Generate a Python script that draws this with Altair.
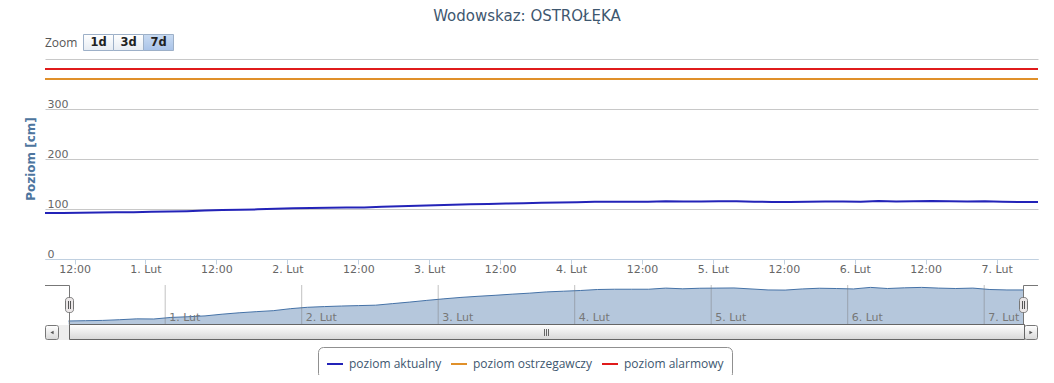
import altair as alt
import pandas as pd

# ---------------- data ----------------
title_text = ["Wodowskaz: OSTROŁĘKA"]
y_title = ["Poziom [cm]"]
zoom_label = ["Zoom"]
zoom_buttons = ["1d", "3d", "7d"]

series_names = ["poziom aktualny", "poziom ostrzegawczy", "poziom alarmowy"]
series_colors = ["#2323B8", "#E0902A", "#E01B1B"]

# current water level, every 3 hours from 31 Jan 07:00 to 7 Feb 07:00
current_level = [92.0, 92.2, 92.4, 92.9, 93.5, 93.4, 94.5, 95.0, 95.6, 96.8,
                 97.8, 98.6, 99.3, 100.7, 101.7, 102.2, 102.6, 102.9, 103.2, 104.3,
                 105.4, 106.6, 107.7, 108.7, 109.5, 110.2, 111.0, 111.7, 112.6, 113.1,
                 113.6, 114.3, 114.5, 114.5, 114.5, 115.3, 114.8, 115.2, 115.3, 115.4,
                 114.7, 114.0, 113.9, 114.7, 115.2, 115.0, 114.7, 115.8, 115.0, 115.5,
                 115.8, 115.3, 115.0, 115.3, 114.3, 114.0, 114.0]
warning_level = [360]
alarm_level = [380]

day_dates = ["2013-02-01T00:00:00Z", "2013-02-02T00:00:00Z", "2013-02-03T00:00:00Z",
             "2013-02-04T00:00:00Z", "2013-02-05T00:00:00Z", "2013-02-06T00:00:00Z",
             "2013-02-07T00:00:00Z"]
day_labels = ["1. Lut", "2. Lut", "3. Lut", "4. Lut", "5. Lut", "6. Lut", "7. Lut"]

times = pd.date_range("2013-01-31 07:00", periods=len(current_level), freq="3h")
df = pd.DataFrame({
    "t": [t.strftime("%Y-%m-%dT%H:%M:%SZ") for t in times],
    "v": current_level,
    "series": series_names[0],
})
levels_df = pd.DataFrame({"v": warning_level + alarm_level,
                          "series": [series_names[1], series_names[2]]})
days_df = pd.DataFrame({"t": day_dates, "label": day_labels})
one = pd.DataFrame({"k": [0]})

# x-axis tick positions (every 12 h, UTC)
tick_times = pd.date_range("2013-01-31 12:00", "2013-02-07 00:00", freq="12h", tz="UTC")
tick_values = [alt.DateTime(year=t.year, month=t.month, date=t.day, hours=t.hour, utc=True)
               for t in tick_times]

FONT = "DejaVu Sans"
LFONT = "Open Sans"
W, H = 993, 200

dt_start = alt.DateTime(year=2013, month=1, date=31, hours=7, utc=True)
dt_end = alt.DateTime(year=2013, month=2, date=7, hours=7, utc=True)

# ---------------- main chart ----------------
color_enc = alt.Color(
    "series:N",
    scale=alt.Scale(domain=series_names, range=series_colors),
    legend=alt.Legend(
        orient="none", legendX=273, legendY=288, direction="horizontal",
        title=None, symbolType="stroke", symbolStrokeWidth=2, symbolSize=256,
        labelFont=LFONT, labelFontSize=12, labelColor="#3E576F",
        labelOffset=5, columnPadding=5, padding=8,
        strokeColor="#909090", cornerRadius=5, fillColor="white",
    ),
)

y_enc = alt.Y(
    "v:Q",
    scale=alt.Scale(domain=[0, 400]),
    title=None,
    axis=alt.Axis(values=[0, 100, 200, 300, 400], grid=True, gridColor="#C8C8C8",
                  domain=False, ticks=False, tickSize=0, labelAlign="left",
                  labelBaseline="bottom", labelPadding=-2, labelFlush=False,
                  labelExpr="datum.value == 400 ? '' : datum.label",
                  labelColor="#666666", labelFont=FONT, labelFontSize=11),
)

x_main = alt.X(
    "t:T",
    scale=alt.Scale(type="utc", domain=[dt_start, dt_end]),
    title=None,
    axis=alt.Axis(values=tick_values, grid=False,
                  domainColor="#C0D0E0", tickColor="#C0D0E0", tickSize=5,
                  labelPadding=-1, labelFlush=False, labelOverlap=False,
                  labelExpr="utchours(datum.value) == 0 ? utcdate(datum.value) + '. Lut' : '12:00'",
                  labelColor="#666666", labelFont=FONT, labelFontSize=11),
)

rules = alt.Chart(levels_df).mark_rule(strokeWidth=2).encode(y=y_enc, color=color_enc)
line = alt.Chart(df).mark_line(strokeWidth=2).encode(x=x_main, y=y_enc, color=color_enc)
main = alt.layer(rules, line)

# ---------------- navigator ----------------
x_nav = alt.X("t:T", scale=alt.Scale(type="utc", domain=[dt_start, dt_end], range=[23.5, 979]),
              axis=None)
y_nav = alt.Y("v:Q", scale=alt.Scale(domain=[89.5, 117.5], range=[265.5, 226], clamp=True,
                                     zero=False), axis=None)

nav_area = alt.Chart(df).mark_area(color="#B5C7DC", opacity=1).encode(x=x_nav, y=y_nav)
nav_line = alt.Chart(df).mark_line(color="#4572A7", strokeWidth=1).encode(x=x_nav, y=y_nav)
nav_grid = alt.Chart(days_df).mark_rule(color="#777777", opacity=0.45, strokeWidth=1).encode(
    x=x_nav, y=alt.value(226), y2=alt.value(265.5))
nav_text = alt.Chart(days_df).mark_text(align="left", baseline="middle", dx=4, font=FONT,
                                        fontSize=11, color="#777777").encode(
    x=x_nav, y=alt.value(259), text="label:N")
nav = alt.layer(nav_area, nav_line, nav_grid, nav_text)


# ---------------- decorations (UI chrome) ----------------
def rect(x, x2, y, y2, **kw):
    return alt.Chart(one).mark_rect(**kw).encode(
        x=alt.value(x), x2=alt.value(x2), y=alt.value(y), y2=alt.value(y2))


def seg(x, x2, y, y2, color="#777777", w=1):
    return alt.Chart(one).mark_rule(color=color, strokeWidth=w).encode(
        x=alt.value(x), x2=alt.value(x2), y=alt.value(y), y2=alt.value(y2))


def label(text_list, x, y, **kw):
    d = pd.DataFrame({"txt": text_list})
    return alt.Chart(d).mark_text(**kw).encode(
        x=alt.value(x), y=alt.value(y), text="txt:N")


grey_grad = alt.Gradient(gradient="linear", x1=0, y1=0, x2=0, y2=1,
                         stops=[alt.GradientStop(color="#FFFFFF", offset=0),
                                alt.GradientStop(color="#D8D8D8", offset=1)])
btn_grad = alt.Gradient(gradient="linear", x1=0, y1=0, x2=0, y2=1,
                        stops=[alt.GradientStop(color="#FFFFFF", offset=0),
                               alt.GradientStop(color="#E6ECF3", offset=1)])
sel_grad = alt.Gradient(gradient="linear", x1=0, y1=0, x2=0, y2=1,
                        stops=[alt.GradientStop(color="#C9DBF2", offset=0),
                               alt.GradientStop(color="#A9C3E8", offset=1)])

deco = []
# title, y title, zoom label
deco.append(label(title_text, 482, -43, font=FONT, fontSize=15, color="#3E576F",
                  align="center", baseline="middle"))
deco.append(label(y_title, -14, 100, font=FONT, fontSize=12, fontWeight="bold",
                  color="#4D759E", align="center", baseline="middle", angle=270))
deco.append(label(zoom_label, 0, -16, font=LFONT, fontSize=12, color="#555555",
                  align="left", baseline="middle"))
# zoom buttons
bx = [38.5, 68.5, 98.5, 128.5]
for i, b in enumerate(zoom_buttons):
    deco.append(rect(bx[i], bx[i + 1], -24.5, -8.5,
                     fill=sel_grad if i == 2 else btn_grad, stroke="#9DB0C8", strokeWidth=1))
    deco.append(label([b], (bx[i] + bx[i + 1]) / 2, -16.5, font=FONT, fontSize=11.5,
                      fontWeight="bold", color="#222222", align="center", baseline="middle"))

# navigator outline and handles
deco += [seg(0, 24.5, 226.5, 226.5), seg(24.5, 24.5, 226.5, 265.5),
         seg(978.5, 993, 226.5, 226.5), seg(978.5, 978.5, 226.5, 265.5)]
for hx in (20.5, 974.5):
    deco.append(rect(hx, hx + 8, 238.5, 253.5, fill="#EBE7E8", stroke="#777777",
                     strokeWidth=1, cornerRadius=3))
    deco.append(seg(hx + 3, hx + 3, 242, 250, color="#555555"))
    deco.append(seg(hx + 5, hx + 5, 242, 250, color="#555555"))

# scrollbar
deco.append(rect(0, 993, 266, 281, fill="#EEEEEE"))
deco.append(rect(0.5, 13.5, 266.5, 280.5, fill=grey_grad, stroke="#777777", strokeWidth=1,
                 cornerRadius=2))
deco.append(rect(979.5, 992.5, 266.5, 280.5, fill=grey_grad, stroke="#777777", strokeWidth=1,
                 cornerRadius=2))
deco.append(rect(24.5, 979.5, 265.5, 280.5, fill=grey_grad, stroke="#666666", strokeWidth=1))
for gx in (499.5, 501.5, 503.5):
    deco.append(seg(gx, gx, 270, 277, color="#666666"))
deco.append(alt.Chart(one).mark_point(shape="triangle-left", filled=True, size=14,
                                      color="#555555", opacity=1).encode(
    x=alt.value(7), y=alt.value(273.5)))
deco.append(alt.Chart(one).mark_point(shape="triangle-right", filled=True, size=14,
                                      color="#555555", opacity=1).encode(
    x=alt.value(986), y=alt.value(273.5)))

chart = alt.layer(nav, *deco, main).resolve_scale(
    x="independent", y="independent"
).properties(
    width=W, height=H,
    autosize=alt.AutoSizeParams(type="none"),
    padding={"left": 37, "top": 51, "right": 8, "bottom": 116},
    background="white",
).configure_view(stroke="transparent")

chart.save("out.html", embed_options={"renderer": "svg", "actions": False})
